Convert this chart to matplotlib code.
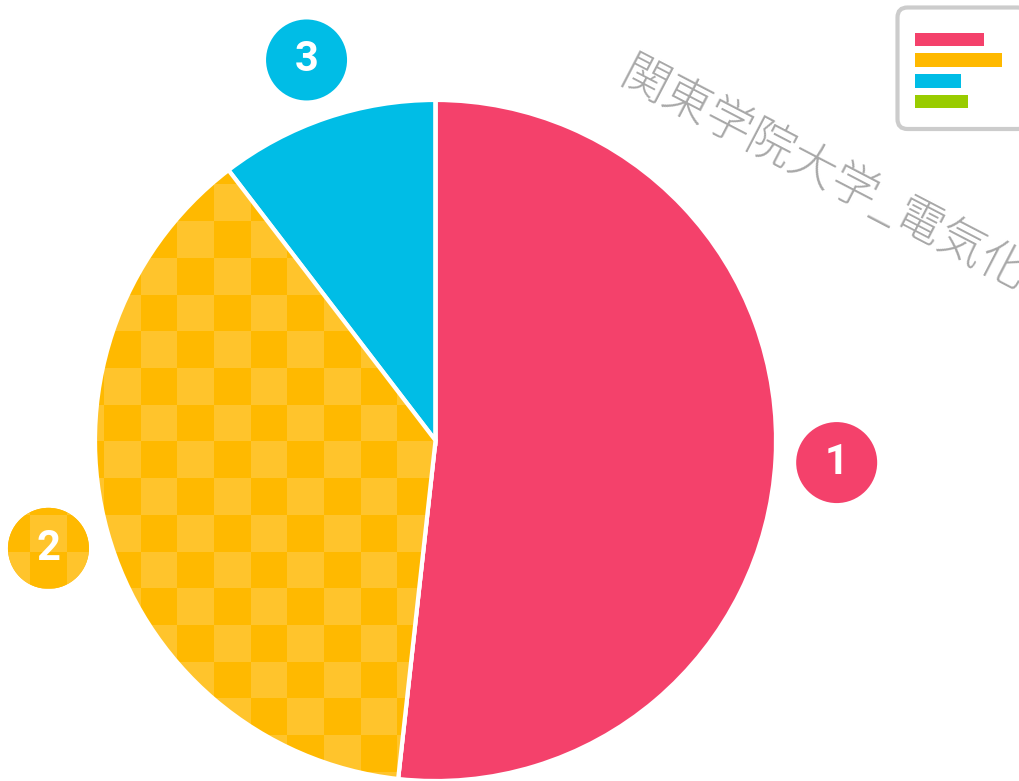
import numpy as np
import matplotlib
matplotlib.use("Agg")
import matplotlib.pyplot as plt
from matplotlib.patches import Circle, Wedge, FancyBboxPatch

plt.rcParams['font.family'] = ['Noto Sans CJK JP', 'DejaVu Sans']

# data (percent of the whole)
labels = ['1', '2', '3', '4']
values = [51.75, 37.85, 10.4, 0.0]
colors = ['#F4416B', '#FFB900', '#00BDE6', '#99CC00']
checker_light = '#FFC42C'
watermark = '関東学院大学_電気化'

W, H = 1020, 781
fig = plt.figure(figsize=(W / 100, H / 100), dpi=100)
ax = fig.add_axes([0, 0, 1, 1])

cx, cy, R = 435.5, H - 440.5, 340.5
wedges, _ = ax.pie(values, colors=colors, startangle=90, counterclock=False,
                   center=(cx, cy), radius=R,
                   wedgeprops=dict(edgecolor='white', linewidth=3))
ax.set_aspect('equal')
ax.axis('off')

# checkerboard for the second slice
tile = 36.7
x0, y0 = -6.1, 1.3  # grid origin in pixel coords (y down)
nx, ny = 30, 23
ii, jj = np.meshgrid(np.arange(nx), np.arange(ny))
board = ((ii + jj) % 2).astype(float)
cmap = matplotlib.colors.ListedColormap([colors[1], checker_light])
extent = (x0, x0 + nx * tile, H - (y0 + ny * tile), H - y0)


def checker(clip, z):
    im = ax.imshow(board, cmap=cmap, extent=extent, origin='upper',
                   interpolation='nearest', zorder=z, vmin=0, vmax=1)
    im.set_clip_path(clip)


checker(wedges[1], 2)
w1 = wedges[1]
ax.add_patch(Wedge((cx, cy), R, w1.theta1, w1.theta2, fill=False,
                   edgecolor='white', linewidth=3, zorder=3))

# numbered badges outside the slices
for w, lab, v, col in zip(wedges, labels, values, colors):
    if v <= 0:
        continue
    mid = np.deg2rad((w.theta1 + w.theta2) / 2)
    bx, by = cx + 1.18 * R * np.cos(mid), cy + 1.18 * R * np.sin(mid)
    c = Circle((bx, by), 40.5, facecolor=col, edgecolor='none', zorder=4)
    ax.add_patch(c)
    if lab == '2':
        checker(c, 4.5)
    ax.text(bx, by, lab, color='white', fontsize=30, fontweight='bold',
            family=['Roboto', 'DejaVu Sans'], ha='center', va='center', zorder=5)

# small legend box in the top right corner
box = FancyBboxPatch((897.5, H - 129), 130, 121.5,
                     boxstyle='round,pad=0,rounding_size=10',
                     facecolor='white', edgecolor='#CCCCCC', linewidth=3, zorder=6)
ax.add_patch(box)
bar_len = [69, 87, 46, 53]
for k, (col, L) in enumerate(zip(colors, bar_len)):
    ytop = 32.5 + k * 20.8
    ax.add_patch(plt.Rectangle((915, H - ytop - 13.5), L, 13.5,
                               facecolor=col, edgecolor='none', zorder=7))

# watermark
ax.text(624, H - 71, watermark, rotation=-27.5, rotation_mode='anchor',
        ha='left', va='center', fontsize=34, color='#A8A8A8',
        fontweight='light', zorder=8)

ax.set_xlim(0, W)
ax.set_ylim(0, H)
fig.savefig('out.png', dpi=100)
